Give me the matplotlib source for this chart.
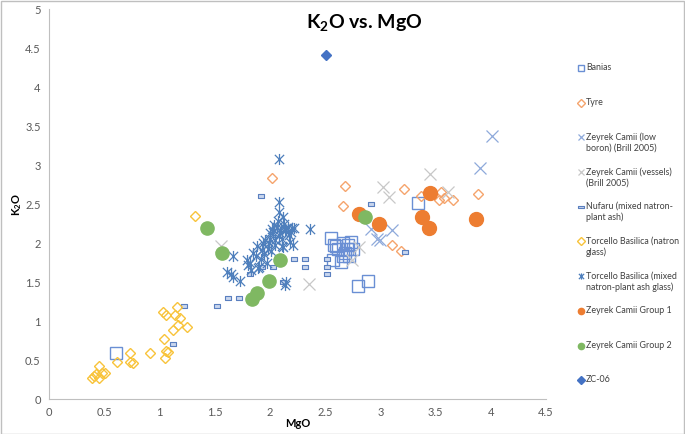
import numpy as np
import matplotlib.pyplot as plt
from matplotlib.path import Path
from matplotlib.lines import Line2D

plt.rcParams['font.family'] = ['Lato', 'DejaVu Sans']
plt.rcParams['mathtext.fontset'] = 'custom'
plt.rcParams['mathtext.rm'] = 'Lato'
plt.rcParams['mathtext.bf'] = 'Lato:bold'

# data (MgO, K2O)
banias_x = [0.61, 2.55, 2.58, 2.66, 2.62, 2.71, 2.73, 2.75, 2.68, 2.57, 2.64, 2.66, 2.72, 2.80, 2.89, 3.34, 2.60, 2.70]
banias_y = [0.59, 2.07, 1.98, 2.00, 1.93, 1.98, 2.01, 1.93, 1.88, 1.79, 1.76, 1.83, 1.83, 1.45, 1.51, 2.51, 1.97, 1.92]

tyre_x = [2.02, 2.68, 2.66, 3.21, 3.37, 3.55, 3.53, 3.58, 3.66, 3.88, 3.11, 3.19]
tyre_y = [2.84, 2.73, 2.48, 2.70, 2.61, 2.66, 2.55, 2.58, 2.55, 2.63, 1.98, 1.90]

lowb_x = [4.01, 3.90, 3.11, 2.92, 2.97, 3.00]
lowb_y = [3.37, 2.97, 2.17, 2.18, 2.06, 2.04]

vessels_x = [3.45, 3.02, 3.08, 3.61, 2.81, 2.74, 2.35, 1.56]
vessels_y = [2.89, 2.72, 2.59, 2.66, 1.95, 1.78, 1.47, 1.97]

nufaru_x = [1.92, 2.92, 3.22, 2.22, 2.32, 2.52, 2.32, 2.52, 2.52, 2.12, 1.82, 2.03, 1.93, 1.62, 1.72, 1.52, 1.22, 1.12]
nufaru_y = [2.60, 2.50, 1.89, 1.80, 1.80, 1.80, 1.70, 1.70, 1.60, 1.50, 1.60, 1.70, 1.70, 1.30, 1.30, 1.20, 1.20, 0.70]

torc_natron_x = [1.32, 1.16, 1.03, 1.06, 1.14, 1.19, 1.17, 1.12, 1.25, 1.04, 1.06, 1.08, 1.05, 0.91,
                 0.73, 0.73, 0.76, 0.62, 0.45, 0.43, 0.48, 0.51, 0.45, 0.39, 0.41]
torc_natron_y = [2.35, 1.18, 1.12, 1.08, 1.08, 1.04, 0.95, 0.89, 0.93, 0.77, 0.62, 0.60, 0.53, 0.59,
                 0.59, 0.47, 0.46, 0.47, 0.42, 0.32, 0.33, 0.33, 0.27, 0.27, 0.30]

torc_mixed_x = [2.08, 2.08, 2.08, 2.12, 2.36, 2.20, 2.15, 1.67, 1.61, 1.67, 1.73, 2.14, 1.79, 1.82,
                1.87, 1.88, 1.93, 1.96, 1.99, 2.00, 2.03, 2.05, 2.06, 2.09, 2.11, 2.14, 2.17, 2.18,
                2.21, 2.11, 1.89, 1.80, 1.85, 1.92, 1.95, 1.98, 2.02, 2.04, 2.07, 2.10, 2.13, 2.16,
                2.19, 2.22, 2.05, 2.01, 1.97, 1.83, 1.90, 2.12, 2.08, 2.00, 1.94, 1.65, 2.15]
torc_mixed_y = [3.08, 2.53, 2.40, 2.34, 2.18, 2.19, 2.17, 1.83, 1.63, 1.57, 1.51, 1.46, 1.78, 1.74,
                1.83, 1.96, 1.91, 2.04, 2.00, 2.13, 2.15, 2.04, 2.21, 2.13, 2.06, 2.17, 2.11, 2.02,
                1.98, 1.96, 1.68, 1.72, 1.88, 1.80, 1.86, 1.93, 2.18, 2.24, 2.28, 2.20, 2.25, 2.21,
                2.15, 2.20, 1.98, 1.90, 1.75, 1.65, 1.70, 1.95, 2.10, 2.05, 2.00, 1.60, 1.50]

g1_x = [2.81, 2.99, 3.45, 3.38, 3.44, 3.87]
g1_y = [2.37, 2.25, 2.64, 2.34, 2.20, 2.31]

g2_x = [1.43, 1.57, 2.09, 1.99, 1.88, 1.84, 2.86]
g2_y = [2.20, 1.88, 1.78, 1.51, 1.36, 1.28, 2.34]

zc_x = [2.51]
zc_y = [4.41]

star = Path([(-1, -1), (1, 1), (-1, 1), (1, -1), (0, -1.2), (0, 1.2)],
            [Path.MOVETO, Path.LINETO, Path.MOVETO, Path.LINETO, Path.MOVETO, Path.LINETO])
flat = Path([(-1, -0.45), (1, -0.45), (1, 0.45), (-1, 0.45), (-1, -0.45)],
            [Path.MOVETO, Path.LINETO, Path.LINETO, Path.LINETO, Path.CLOSEPOLY])

series = [
    ('Banias', banias_x, banias_y, dict(marker='s', ms=8, mfc='none', mec='#6a8fd4', mew=1.0)),
    ('Tyre', tyre_x, tyre_y, dict(marker='D', ms=5.6, mfc='none', mec='#f5a46c', mew=1.0)),
    ('Zeyrek Camii (low\nboron) (Brill 2005)', lowb_x, lowb_y, dict(marker='x', ms=8, mec='#8ea9db', mew=0.9)),
    ('Zeyrek Camii (vessels)\n(Brill 2005)', vessels_x, vessels_y, dict(marker='x', ms=8, mec='#c8c8c8', mew=0.9)),
    ('Nufaru (mixed natron-\nplant ash)', nufaru_x, nufaru_y, dict(marker=flat, ms=5, mfc='#c9d6ee', mec='#5a7fbf', mew=0.8)),
    ('Torcello Basilica (natron\nglass)', torc_natron_x, torc_natron_y, dict(marker='D', ms=5.6, mfc='none', mec='#f8c33a', mew=1.0)),
    ('Torcello Basilica (mixed\nnatron-plant ash glass)', torc_mixed_x, torc_mixed_y, dict(marker=star, ms=8, mec='#4e7fbc', mew=0.9)),
    ('Zeyrek Camii Group 1', g1_x, g1_y, dict(marker='o', ms=10, mfc='#ed7d31', mec='#ed7d31')),
    ('Zeyrek Camii Group 2', g2_x, g2_y, dict(marker='o', ms=9.5, mfc='#7fb862', mec='#7fb862')),
    ('ZC-06', zc_x, zc_y, dict(marker='D', ms=5, mfc='#4472c4', mec='#4472c4')),
]

fig = plt.figure(figsize=(6.85, 4.34), dpi=100)
ax = fig.add_axes([49/685, 1 - 399/434, 497/685, 389.5/434])

for label, xs, ys, st in series:
    ax.plot(xs, ys, ls='none', **st)

ax.set_xlim(0, 4.5)
ax.set_ylim(0, 5)
ax.set_xticks(np.arange(0, 4.6, 0.5))
ax.set_yticks(np.arange(0, 5.1, 0.5))
ax.set_xticklabels(['0', '0.5', '1', '1.5', '2', '2.5', '3', '3.5', '4', '4.5'])
ax.set_yticklabels(['0', '0.5', '1', '1.5', '2', '2.5', '3', '3.5', '4', '4.5', '5'])
ax.tick_params(length=0, labelsize=8, labelcolor='#595959', pad=6)
for s in ['top', 'right']:
    ax.spines[s].set_visible(False)
for s in ['left', 'bottom']:
    ax.spines[s].set_color('#bfbfbf')
    ax.spines[s].set_linewidth(0.8)

ax.set_xlabel('MgO', fontsize=8, fontweight='bold', labelpad=0)
ax.set_ylabel(r'K$_\mathbf{2}$O', fontsize=8, fontweight='bold', labelpad=1)
ax.text(0.634, 0.965, r'K$_\mathbf{2}$O vs. MgO', transform=ax.transAxes, ha='center', va='center',
        fontsize=14, fontweight='bold')

# legend on the right, one entry every ~34.7 px
for i, (label, xs, ys, st) in enumerate(series):
    yy = 1 - (68 + i * 34.7) / 434
    st2 = dict(st)
    st2['ms'] = 4.5 if st['marker'] != flat else 4
    fig.add_artist(Line2D([581/685], [yy], ls='none', transform=fig.transFigure, **st2))
    fig.text(586/685, yy + 5/434, label, fontsize=6.4, va='top', ha='left', color='#404040', linespacing=1.25)

fig.add_artist(plt.Rectangle((0.5/685, 0.5/434), 683.5/685, 432.5/434, transform=fig.transFigure,
                             fill=False, ec='#bfbfbf', lw=1))

fig.savefig('out.png', dpi=100)
